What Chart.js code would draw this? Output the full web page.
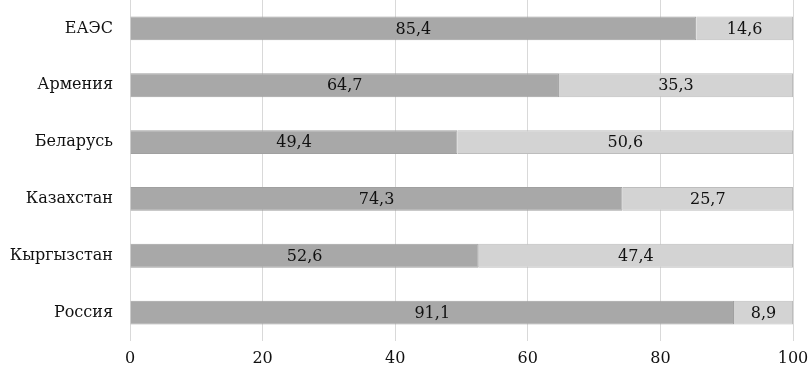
<!DOCTYPE html>
<html><head><meta charset="utf-8">
<script src="https://cdn.jsdelivr.net/npm/chart.js@4/dist/chart.umd.min.js"></script>
<style>html,body{margin:0;padding:0;background:#fff}#w{width:809px;height:369px}</style>
</head><body><div id="w"><canvas id="c"></canvas></div>
<script>
const categories = ["ЕАЭС","Армения","Беларусь","Казахстан","Кыргызстан","Россия"];
const seriesA = [85.4, 64.7, 49.4, 74.3, 52.6, 91.1];
const seriesB = [14.6, 35.3, 50.6, 25.7, 47.4, 8.9];
const xTicks = [0,20,40,60,80,100];
const FONT = '"DejaVu Serif", serif';

const labelPlugin = {
  id:'lbl',
  afterDatasetsDraw(chart){
    const ctx = chart.ctx;
    ctx.save();
    ctx.font = '16px ' + FONT;
    ctx.fillStyle = '#111';
    ctx.textAlign = 'center';
    ctx.textBaseline = 'middle';
    chart.data.datasets.forEach((ds,di)=>{
      chart.getDatasetMeta(di).data.forEach((el,i)=>{
        const cx = (el.x + el.base)/2;
        ctx.fillText(String(ds.data[i]).replace('.',','), cx, el.y+1);
      });
    });
    ctx.restore();
  }
};

new Chart(document.getElementById('c'),{
  type:'bar',
  data:{labels:categories,datasets:[
    {data:seriesA,backgroundColor:'#a8a8a8',borderColor:'#a0a0a0',borderWidth:1,barPercentage:0.84,categoryPercentage:0.5},
    {data:seriesB,backgroundColor:'#d3d3d3',borderColor:'#bdbdbd',borderWidth:1,barPercentage:0.84,categoryPercentage:0.5}
  ]},
  options:{
    indexAxis:'y',responsive:true,maintainAspectRatio:false,animation:false,
    layout:{padding:{left:0,right:16,top:0,bottom:0},autoPadding:false},
    plugins:{legend:{display:false},tooltip:{enabled:false}},
    scales:{
      x:{stacked:true,min:0,max:100,
        afterBuildTicks(s){s.ticks=xTicks.map(v=>({value:v}));},
        afterFit(s){s.height=28;s.paddingLeft=0;s.paddingRight=0;},
        grid:{color:'#d9d9d9',drawTicks:false},border:{display:false},
        ticks:{padding:8,color:'#111',font:{family:FONT,size:16}}},
      y:{stacked:true,
        afterFit(s){s.width=130;s.paddingTop=0;s.paddingBottom=0;},
        grid:{display:false,drawTicks:false},border:{display:false},
        ticks:{padding:17,color:'#111',font:{family:FONT,size:16}}}
    }
  },
  plugins:[labelPlugin]
});
</script></body></html>
